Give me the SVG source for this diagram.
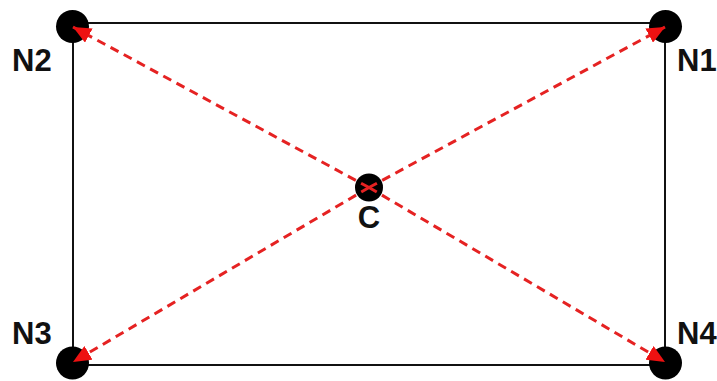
<svg xmlns="http://www.w3.org/2000/svg" width="717" height="381" viewBox="0 0 717 381">
<style>
.node{fill:#000}
.lbl{font-family:"Liberation Sans",Arial,sans-serif;font-weight:bold;font-size:31px;fill:#111}
.edge{stroke:#e52222;stroke-width:3;stroke-dasharray:9 6;fill:none}
.frame{stroke:#111;stroke-width:2;fill:none}
</style>
<defs>
<marker id="ah" markerUnits="userSpaceOnUse" markerWidth="20" markerHeight="16" refX="18" refY="8" orient="auto">
<path d="M0,0 L18,8 L0,16 z" fill="#ee1111"/>
</marker>
</defs>
<rect class="frame" x="73" y="23" width="592" height="342"/>
<g id="N1"><circle class="node" cx="665.5" cy="26.5" r="16.5"/><text class="lbl" x="677" y="71">N1</text></g>
<g id="N2"><circle class="node" cx="72.5" cy="26.5" r="16.5"/><text class="lbl" x="12" y="71">N2</text></g>
<g id="N3"><circle class="node" cx="72.5" cy="363" r="16.5"/><text class="lbl" x="12" y="344">N3</text></g>
<g id="N4"><circle class="node" cx="665.5" cy="363" r="16.5"/><text class="lbl" x="677" y="344">N4</text></g>
<g id="C"><circle class="node" cx="369" cy="187.5" r="14"/><text class="lbl" x="369" y="228" text-anchor="middle">C</text></g>
<g id="connectors">
<line class="edge" x1="369" y1="187.5" x2="665" y2="27" marker-end="url(#ah)"/>
<line class="edge" x1="369" y1="187.5" x2="73" y2="27" marker-end="url(#ah)"/>
<line class="edge" x1="369" y1="187.5" x2="73" y2="362" marker-end="url(#ah)"/>
<line class="edge" x1="369" y1="187.5" x2="665" y2="362" marker-end="url(#ah)"/>
</g>
</svg>
